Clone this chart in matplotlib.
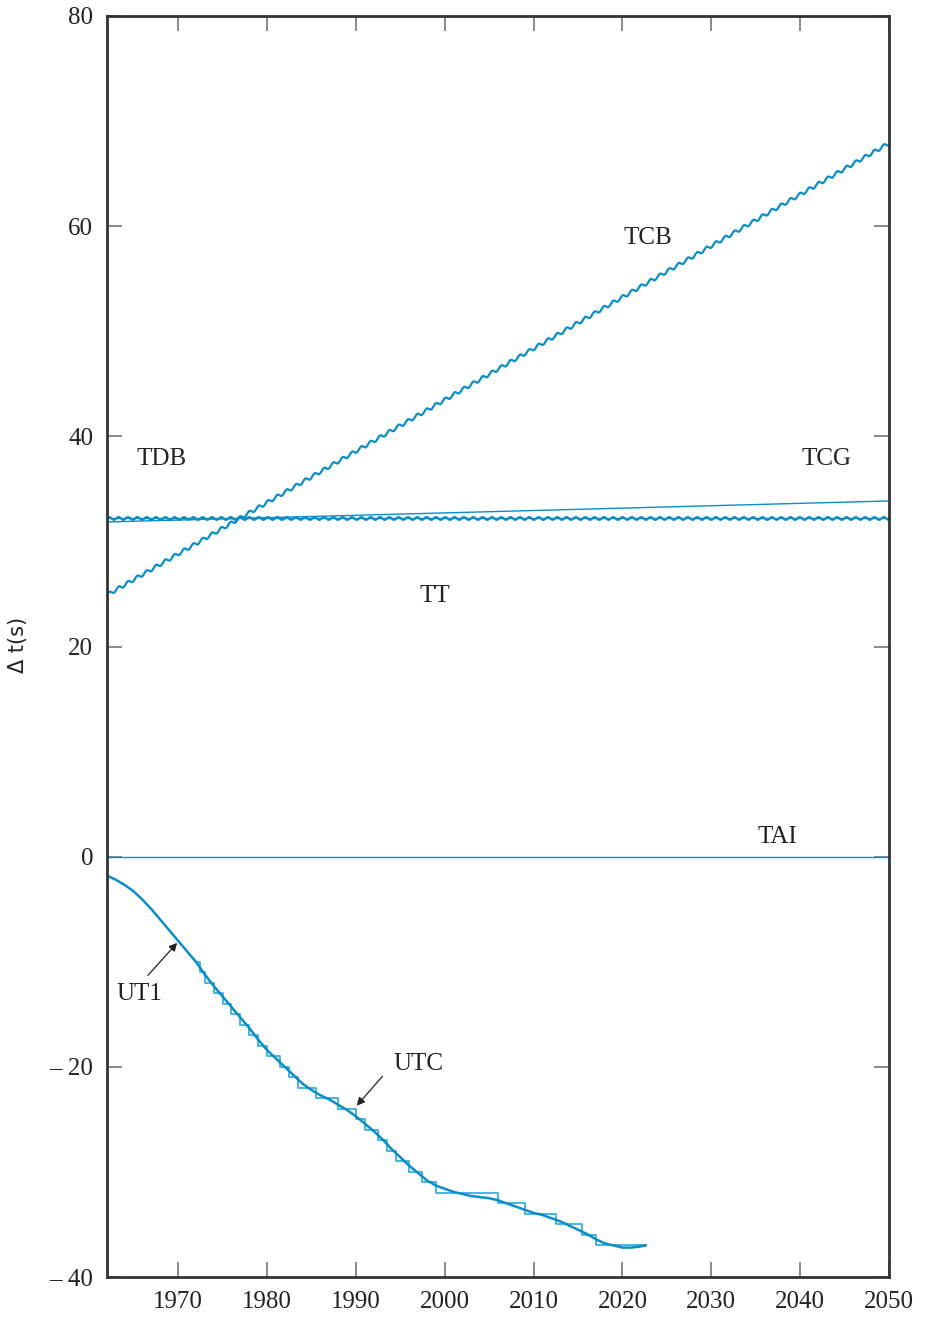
import numpy as np
import matplotlib
matplotlib.use("Agg")
import matplotlib.pyplot as plt

plt.rcParams['font.family'] = ['Liberation Serif', 'DejaVu Serif']

# UT1 - TAI (s) at the start of each year
ut1_years = [1962, 1963, 1964, 1965, 1966, 1967, 1968, 1969, 1970, 1971,
             1972, 1973, 1974, 1975, 1976, 1977, 1978, 1979, 1980, 1981,
             1982, 1983, 1984, 1985, 1986, 1987, 1988, 1989, 1990, 1991,
             1992, 1993, 1994, 1995, 1996, 1997, 1998, 1999, 2000, 2001,
             2002, 2003, 2004, 2005, 2006, 2007, 2008, 2009, 2010, 2011,
             2012, 2013, 2014, 2015, 2016, 2017, 2018, 2019, 2020, 2021,
             2022, 2022.6]
ut1_tai = [-1.8, -2.2, -2.7, -3.3, -4.1, -5.0, -6.0, -7.0, -8.0, -9.0,
           -10.0, -11.2, -12.3, -13.3, -14.3, -15.3, -16.3, -17.4, -18.4, -19.2,
           -20.0, -20.8, -21.6, -22.2, -22.7, -23.1, -23.6, -24.1, -24.7, -25.4,
           -26.1, -26.9, -27.8, -28.6, -29.4, -30.1, -30.8, -31.3, -31.6, -31.9,
           -32.1, -32.3, -32.4, -32.5, -32.7, -33.0, -33.3, -33.6, -33.9, -34.1,
           -34.4, -34.7, -35.1, -35.5, -35.9, -36.4, -36.8, -37.0, -37.2, -37.2,
           -37.1, -37.0]

# UTC - TAI: leap second dates and new offsets
leap_dates = [1972.0, 1972.5, 1973.0, 1974.0, 1975.0, 1976.0, 1977.0, 1978.0,
              1979.0, 1980.0, 1981.5, 1982.5, 1983.5, 1985.5, 1988.0, 1990.0,
              1991.0, 1992.5, 1993.5, 1994.5, 1996.0, 1997.5, 1999.0, 2006.0,
              2009.0, 2012.5, 2015.5, 2017.0, 2022.6]
utc_tai = [-10, -11, -12, -13, -14, -15, -16, -17, -18, -19, -20, -21, -22,
           -23, -24, -25, -26, -27, -28, -29, -30, -31, -32, -33, -34, -35,
           -36, -37, -37]

# straight lines: end values at 1962 and 2050 (s)
x_range = [1962, 2050]
tt_tai = [32.184, 32.184]
tcg_tai = [31.85, 33.85]
tcb_tai = [24.9, 67.9]
tdb_amp = 0.13   # annual term of TDB, as drawn
tcb_amp = 0.17

labels = ['TCB', 'TDB', 'TCG', 'TT', 'TAI', 'UT1', 'UTC']
label_x = [2022.9, 1968.1, 2043.0, 1998.9, 2037.4, 1965.7, 1997.1]
label_y = [58.9, 37.8, 37.8, 24.8, 1.9, -13.1, -19.7]

blue = '#0b8dc6'
light = '#3aaee0'

fig = plt.figure(figsize=(9.26, 13.17), dpi=100)
ax = fig.add_axes([107 / 926, 40 / 1317, 782 / 926, 1261 / 1317])

t = np.linspace(x_range[0], x_range[1], 4000)
wave = np.sin(2 * np.pi * (t - x_range[0]) / 1.05)
tt = np.interp(t, x_range, tt_tai)
tcb = np.interp(t, x_range, tcb_tai)

ax.plot(x_range, [0, 0], color=blue, lw=1.0)
ax.plot(x_range, tt_tai, color=blue, lw=1.0)
ax.plot(t, tt + tdb_amp * wave, color=blue, lw=1.6)
ax.plot(x_range, tcg_tai, color=blue, lw=1.0)
ax.plot(t, tcb + tcb_amp * wave, color=blue, lw=1.6)

ax.step(leap_dates, utc_tai, where='post', color=light, lw=1.3)
ax.plot(ut1_years, ut1_tai, color=blue, lw=1.8)

for name, lx, ly in zip(labels, label_x, label_y):
    ax.text(lx, ly, name, fontsize=18, ha='center', va='center', color='#222222')

ax.annotate('', xy=(1969.9, -8.2), xytext=(1966.6, -11.3),
            arrowprops=dict(arrowstyle='-|>', color='#222222', lw=0.9,
                            mutation_scale=12, shrinkA=0, shrinkB=0))
ax.annotate('', xy=(1990.1, -23.7), xytext=(1993.0, -20.9),
            arrowprops=dict(arrowstyle='-|>', color='#222222', lw=0.9,
                            mutation_scale=12, shrinkA=0, shrinkB=0))

ax.set_xlim(1962, 2050)
ax.set_ylim(-40, 80)
ax.set_xticks(range(1970, 2051, 10))
ax.set_yticks(range(-40, 81, 20))
ax.set_yticklabels(['\u2013 40', '\u2013 20', '0', '20', '40', '60', '80'])
ax.tick_params(direction='in', length=11, width=1.2, color='#777777',
               top=True, right=True, labelsize=18, labelcolor='#222222', pad=10)
for s in ax.spines.values():
    s.set_linewidth(2)
    s.set_color('#333333')
ax.set_ylabel('\u0394 t(s)', fontsize=15, color='#222222',
              family=['DejaVu Sans'], va='center')
ax.yaxis.set_label_coords(-0.114, 0.501)

fig.savefig('out.png', dpi=100)
